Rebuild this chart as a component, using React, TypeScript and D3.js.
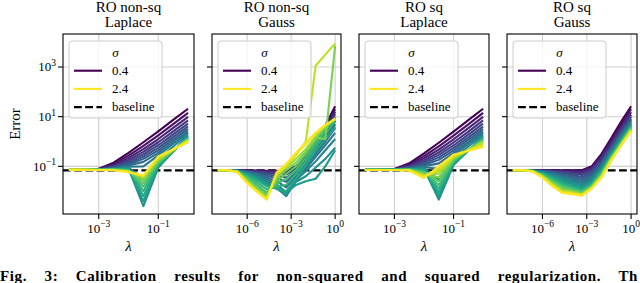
import React, { useLayoutEffect, useRef } from "react";
import * as d3 from "d3";

// ---------- data ----------
const sigmas = [0.4, 0.5, 0.6, 0.7, 0.8, 0.9, 1.0, 1.1, 1.2, 1.3, 1.4, 1.5, 1.6, 1.7, 1.8, 1.9, 2.0, 2.1, 2.2, 2.3, 2.4];
const lambdaExpLaplace = [-4, -3.5, -3, -2.5, -2, -1.5, -1, -0.5, 0];
const lambdaExpGauss = [-8, -7.33, -6.67, -6, -5.33, -4.67, -4, -3.33, -2.67, -2, -1.33, -0.67, 0];
const baselineError = 0.069;
const panelTitles = [
  ["RO non-sq", "Laplace"],
  ["RO non-sq", "Gauss"],
  ["RO sq", "Laplace"],
  ["RO sq", "Gauss"],
];
const yTickValues = [1e-1, 1e1, 1e3];
const xTicksLaplace = [1e-3, 1e-1];
const xTicksGauss = [1e-6, 1e-3, 1];
const legendLabels = ["0.4", "2.4", "baseline"];

// log10(Error), one row per sigma
const logErrNonSqLaplace = [
  [-1.14, -1.14, -1.10, -0.85, -0.46, -0.03, 0.41, 0.87, 1.32],
  [-1.14, -1.14, -1.11, -0.91, -0.57, -0.18, 0.25, 0.70, 1.15],
  [-1.14, -1.14, -1.12, -0.96, -0.66, -0.31, 0.10, 0.55, 0.99],
  [-1.14, -1.14, -1.12, -0.99, -0.74, -0.42, -0.03, 0.41, 0.85],
  [-1.14, -1.14, -1.13, -1.02, -0.81, -0.52, -0.15, 0.29, 0.72],
  [-1.14, -1.14, -1.13, -1.04, -0.87, -0.61, -0.26, 0.18, 0.61],
  [-1.14, -1.14, -1.13, -1.06, -0.92, -0.70, -0.36, 0.08, 0.51],
  [-1.14, -1.14, -1.13, -1.08, -0.97, -0.82, -0.46, -0.01, 0.42],
  [-1.14, -1.14, -1.14, -1.09, -1.01, -1.00, -0.56, -0.09, 0.35],
  [-1.14, -1.14, -1.14, -1.10, -1.05, -1.50, -0.72, -0.20, 0.29],
  [-1.14, -1.14, -1.14, -1.11, -1.08, -2.60, -1.05, -0.40, 0.24],
  [-1.14, -1.14, -1.14, -1.12, -1.10, -2.40, -1.00, -0.40, 0.20],
  [-1.14, -1.14, -1.14, -1.12, -1.12, -2.20, -0.95, -0.39, 0.17],
  [-1.14, -1.14, -1.14, -1.13, -1.14, -2.00, -0.90, -0.38, 0.14],
  [-1.14, -1.14, -1.14, -1.13, -1.16, -1.82, -0.86, -0.37, 0.12],
  [-1.14, -1.14, -1.14, -1.14, -1.18, -1.68, -0.82, -0.36, 0.10],
  [-1.14, -1.14, -1.14, -1.14, -1.19, -1.56, -0.78, -0.35, 0.08],
  [-1.14, -1.14, -1.15, -1.15, -1.20, -1.47, -0.73, -0.34, 0.06],
  [-1.14, -1.14, -1.15, -1.15, -1.21, -1.41, -0.69, -0.33, 0.04],
  [-1.14, -1.14, -1.15, -1.15, -1.22, -1.38, -0.65, -0.32, 0.01],
  [-1.14, -1.14, -1.15, -1.16, -1.24, -1.37, -0.60, -0.32, -0.03],
];

const logErrNonSqGauss = [
  [-1.16, -1.16, -1.16, -1.17, -1.17, -1.18, -1.18, -1.17, -1.00, -0.55, -0.05, 0.65, 1.42],
  [-1.16, -1.16, -1.16, -1.17, -1.18, -1.19, -1.19, -1.18, -1.02, -0.60, -0.10, 0.55, 1.30],
  [-1.16, -1.16, -1.16, -1.18, -1.19, -1.20, -1.21, -1.20, -1.05, -0.65, -0.15, 0.48, 1.20],
  [-1.16, -1.16, -1.17, -1.19, -1.21, -1.23, -1.24, -1.24, -1.08, -0.70, -0.20, 0.40, 1.10],
  [-1.16, -1.16, -1.17, -1.20, -1.23, -1.27, -1.30, -1.32, -1.12, -0.75, -0.25, 0.32, 0.98],
  [-1.16, -1.16, -1.17, -1.21, -1.26, -1.32, -1.38, -1.45, -1.18, -0.82, -0.32, 0.22, 0.85],
  [-1.16, -1.16, -1.17, -1.23, -1.29, -1.38, -1.48, -1.62, -1.25, -0.90, -0.40, 0.10, 0.70],
  [-1.16, -1.16, -1.17, -1.24, -1.32, -1.45, -1.60, -1.85, -1.35, -1.00, -0.50, 0.00, 0.55],
  [-1.16, -1.16, -1.18, -1.26, -1.36, -1.52, -1.72, -2.05, -1.45, -1.10, -0.62, -0.15, 0.35],
  [-1.16, -1.16, -1.18, -1.28, -1.40, -1.60, -1.85, -2.20, -1.55, -1.20, -0.80, -0.35, 0.10],
  [-1.16, -1.16, -1.19, -1.30, -1.45, -1.68, -1.90, -2.15, -1.62, -1.40, -1.05, -0.70, -0.25],
  [-1.16, -1.16, -1.19, -1.32, -1.50, -1.75, -1.85, -2.05, -1.75, -1.60, -1.50, -1.00, -0.35],
  [-1.16, -1.16, -1.20, -1.35, -1.55, -1.80, -1.90, -2.00, -1.50, -0.95, -0.40, 0.10, 0.60],
  [-1.16, -1.16, -1.20, -1.40, -1.65, -1.92, -1.80, -1.75, -1.30, -0.80, -0.25, 0.30, 0.80],
  [-1.16, -1.16, -1.20, -1.45, -1.75, -2.05, -1.70, -1.50, -1.15, -0.65, -0.10, 0.45, 0.90],
  [-1.16, -1.16, -1.21, -1.50, -1.85, -2.15, -1.60, -1.30, -1.00, -0.50, 0.05, 0.55, 0.95],
  [-1.16, -1.16, -1.21, -1.55, -1.90, -2.20, -1.50, -1.15, -0.85, -0.40, 0.15, 0.10, 3.85],
  [-1.16, -1.16, -1.22, -1.60, -1.95, -2.25, -1.40, -1.05, -0.70, -0.30, 0.20, 0.60, 0.95],
  [-1.16, -1.16, -1.22, -1.62, -2.00, -2.30, -1.35, -1.00, -0.55, 0.00, 3.05, 3.50, 3.95],
  [-1.16, -1.16, -1.22, -1.65, -2.00, -2.32, -1.30, -0.95, -0.50, -0.10, 0.30, 0.65, 0.90],
  [-1.16, -1.16, -1.23, -1.68, -2.02, -2.34, -1.25, -0.90, -0.45, -0.05, 0.35, 0.68, 0.90],
];

const logErrSqLaplace = [
  [-1.14, -1.14, -1.11, -0.88, -0.48, -0.05, 0.40, 0.86, 1.32],
  [-1.14, -1.14, -1.12, -0.93, -0.59, -0.20, 0.24, 0.69, 1.15],
  [-1.14, -1.14, -1.12, -0.97, -0.68, -0.33, 0.09, 0.54, 0.99],
  [-1.14, -1.14, -1.13, -1.00, -0.76, -0.44, -0.04, 0.40, 0.85],
  [-1.14, -1.14, -1.13, -1.03, -0.83, -0.54, -0.16, 0.28, 0.72],
  [-1.14, -1.14, -1.13, -1.05, -0.89, -0.64, -0.27, 0.17, 0.60],
  [-1.14, -1.14, -1.13, -1.07, -0.95, -0.74, -0.37, 0.07, 0.50],
  [-1.14, -1.14, -1.13, -1.08, -1.00, -0.88, -0.47, -0.02, 0.41],
  [-1.14, -1.14, -1.14, -1.09, -1.04, -1.10, -0.57, -0.10, 0.34],
  [-1.14, -1.14, -1.14, -1.10, -1.07, -1.55, -0.70, -0.20, 0.28],
  [-1.14, -1.14, -1.14, -1.11, -1.10, -2.34, -0.95, -0.36, 0.22],
  [-1.14, -1.14, -1.14, -1.12, -1.13, -2.20, -0.90, -0.36, 0.18],
  [-1.14, -1.14, -1.14, -1.12, -1.16, -2.05, -0.86, -0.36, 0.14],
  [-1.14, -1.14, -1.14, -1.13, -1.19, -1.90, -0.82, -0.35, 0.11],
  [-1.14, -1.14, -1.14, -1.13, -1.22, -1.75, -0.78, -0.35, 0.08],
  [-1.14, -1.14, -1.15, -1.14, -1.26, -1.60, -0.74, -0.34, 0.05],
  [-1.14, -1.14, -1.15, -1.14, -1.30, -1.45, -0.70, -0.34, 0.02],
  [-1.15, -1.15, -1.15, -1.15, -1.34, -1.30, -0.66, -0.34, -0.02],
  [-1.15, -1.15, -1.15, -1.16, -1.38, -1.20, -0.62, -0.35, -0.08],
  [-1.15, -1.15, -1.15, -1.16, -1.42, -1.10, -0.57, -0.36, -0.15],
  [-1.15, -1.15, -1.15, -1.17, -1.47, -1.00, -0.53, -0.37, -0.22],
];

const logErrSqGauss = [
  [-1.16, -1.16, -1.16, -1.16, -1.16, -1.16, -1.16, -1.16, -1.00, -0.50, 0.15, 0.80, 1.42],
  [-1.16, -1.16, -1.16, -1.16, -1.17, -1.17, -1.17, -1.18, -1.03, -0.56, 0.07, 0.70, 1.30],
  [-1.16, -1.16, -1.16, -1.17, -1.18, -1.19, -1.20, -1.22, -1.08, -0.63, -0.02, 0.58, 1.18],
  [-1.16, -1.16, -1.16, -1.17, -1.19, -1.21, -1.24, -1.28, -1.13, -0.70, -0.10, 0.50, 1.08],
  [-1.16, -1.16, -1.16, -1.18, -1.20, -1.24, -1.29, -1.35, -1.20, -0.77, -0.17, 0.43, 1.00],
  [-1.16, -1.16, -1.17, -1.19, -1.22, -1.28, -1.35, -1.43, -1.27, -0.83, -0.23, 0.37, 0.93],
  [-1.16, -1.16, -1.17, -1.20, -1.25, -1.32, -1.41, -1.51, -1.34, -0.89, -0.29, 0.31, 0.87],
  [-1.16, -1.16, -1.17, -1.21, -1.27, -1.37, -1.47, -1.59, -1.41, -0.95, -0.34, 0.26, 0.82],
  [-1.16, -1.16, -1.17, -1.22, -1.30, -1.42, -1.54, -1.67, -1.48, -1.01, -0.39, 0.21, 0.77],
  [-1.16, -1.16, -1.18, -1.24, -1.34, -1.48, -1.61, -1.75, -1.54, -1.06, -0.44, 0.16, 0.73],
  [-1.16, -1.16, -1.18, -1.26, -1.38, -1.54, -1.68, -1.82, -1.60, -1.11, -0.48, 0.12, 0.69],
  [-1.16, -1.16, -1.18, -1.28, -1.42, -1.60, -1.74, -1.88, -1.65, -1.16, -0.52, 0.08, 0.65],
  [-1.16, -1.16, -1.19, -1.30, -1.47, -1.66, -1.80, -1.93, -1.70, -1.20, -0.56, 0.04, 0.62],
  [-1.16, -1.16, -1.19, -1.32, -1.52, -1.72, -1.85, -1.98, -1.74, -1.24, -0.59, 0.01, 0.59],
  [-1.16, -1.16, -1.19, -1.34, -1.57, -1.78, -1.90, -2.02, -1.78, -1.28, -0.62, -0.03, 0.56],
  [-1.16, -1.16, -1.19, -1.36, -1.62, -1.84, -1.95, -2.05, -1.81, -1.32, -0.65, -0.06, 0.53],
  [-1.16, -1.16, -1.20, -1.38, -1.66, -1.90, -1.99, -2.09, -1.84, -1.35, -0.68, -0.09, 0.50],
  [-1.16, -1.16, -1.20, -1.40, -1.70, -1.96, -2.03, -2.12, -1.86, -1.38, -0.70, -0.11, 0.47],
  [-1.16, -1.16, -1.20, -1.42, -1.74, -2.01, -2.06, -2.14, -1.88, -1.41, -0.72, -0.13, 0.45],
  [-1.16, -1.16, -1.20, -1.44, -1.77, -2.04, -2.09, -2.16, -1.89, -1.43, -0.74, -0.14, 0.43],
  [-1.16, -1.16, -1.20, -1.45, -1.80, -2.07, -2.12, -2.18, -1.90, -1.45, -0.75, -0.15, 0.41],
];

const caption = "Fig. 3: Calibration results for non-squared and squared regularization. Th";

// ---------- layout ----------
const W = 640;
const H = 283;
const TOP = 34;
const BOTTOM = 214;
const FONT = "Liberation Serif, Times New Roman, serif";

const panels = [
  { x0: 63, x1: 194, lam: lambdaExpLaplace, data: logErrNonSqLaplace, dom: [-4.2, 0.2], ticks: xTicksLaplace },
  { x0: 212, x1: 341, lam: lambdaExpGauss, data: logErrNonSqGauss, dom: [-8.4, 0.4], ticks: xTicksGauss },
  { x0: 359, x1: 489, lam: lambdaExpLaplace, data: logErrSqLaplace, dom: [-4.2, 0.2], ticks: xTicksLaplace },
  { x0: 507, x1: 637, lam: lambdaExpGauss, data: logErrSqGauss, dom: [-8.4, 0.4], ticks: xTicksGauss },
];

const y = d3.scaleLog().domain([10 ** -2.92, 10 ** 4.33]).range([BOTTOM, TOP]);
const color = (i: number) => d3.interpolateViridis(i / (sigmas.length - 1));

function PowLabel({ v, x, yy, anchor }: { v: number; x: number; yy: number; anchor: string }) {
  const e = Math.round(Math.log10(v));
  const es = e < 0 ? "\u2212" + Math.abs(e) : String(e);
  return (
    <text x={x} y={yy} textAnchor={anchor} fontSize={13} fontFamily={FONT} fill="#000">
      10
      <tspan dy={-5.5} fontSize={9.5}>
        {es}
      </tspan>
    </text>
  );
}

function Panel({ p, idx }: { p: (typeof panels)[number]; idx: number }) {
  const x = d3.scaleLog().domain([10 ** p.dom[0], 10 ** p.dom[1]]).range([p.x0, p.x1]);
  const line = d3
    .line<number>()
    .x((_, j) => x(10 ** p.lam[j]))
    .y((d) => y(10 ** d));
  const cx = (p.x0 + p.x1) / 2;
  const clipId = `clip${idx}`;
  const lx = p.x0 + 6;
  const ly = 41;
  return (
    <g>
      <clipPath id={clipId}>
        <rect x={p.x0} y={TOP} width={p.x1 - p.x0} height={BOTTOM - TOP} />
      </clipPath>
      {p.ticks.map((t) => (
        <line key={"gx" + t} x1={x(t)} x2={x(t)} y1={TOP} y2={BOTTOM} stroke="#d0d0d0" strokeWidth={1.1} />
      ))}
      {yTickValues.map((t) => (
        <line key={"gy" + t} x1={p.x0} x2={p.x1} y1={y(t)} y2={y(t)} stroke="#d0d0d0" strokeWidth={1.1} />
      ))}
      <g clipPath={`url(#${clipId})`}>
        <line
          x1={p.x0}
          x2={p.x1}
          y1={y(baselineError)}
          y2={y(baselineError)}
          stroke="#000"
          strokeWidth={2.1}
          strokeDasharray="7.8 3.4"
        />
        {p.data.map((row, i) => (
          <path key={i} d={line(row) || ""} fill="none" stroke={color(i)} strokeWidth={2.1} strokeLinejoin="round" />
        ))}
      </g>
      <rect x={p.x0} y={TOP} width={p.x1 - p.x0} height={BOTTOM - TOP} fill="none" stroke="#000" strokeWidth={1.1} />
      {p.ticks.map((t) => (
        <g key={"tx" + t}>
          <line x1={x(t)} x2={x(t)} y1={BOTTOM} y2={BOTTOM + 5} stroke="#000" strokeWidth={1.1} />
          <PowLabel v={t} x={x(t)} yy={232.5} anchor="middle" />
        </g>
      ))}
      {yTickValues.map((t) => (
        <g key={"ty" + t}>
          <line x1={p.x0 - 5} x2={p.x0} y1={y(t)} y2={y(t)} stroke="#000" strokeWidth={1.1} />
          {idx === 0 && <PowLabel v={t} x={p.x0 - 7} yy={y(t) + 4.4} anchor="end" />}
        </g>
      ))}
      <text x={cx} y={12} textAnchor="middle" fontSize={15} fontFamily={FONT}>
        {panelTitles[idx][0]}
      </text>
      <text x={cx} y={27} textAnchor="middle" fontSize={15} fontFamily={FONT}>
        {panelTitles[idx][1]}
      </text>
      <text x={cx} y={251} textAnchor="middle" fontSize={15} fontStyle="italic" fontFamily={FONT}>
        λ
      </text>
      <g>
        <rect x={lx} y={ly} width={93} height={77} rx={3} fill="#fff" fillOpacity={0.8} stroke="#cccccc" strokeWidth={1} />
        <text x={lx + 46.5} y={57} textAnchor="middle" fontSize={13} fontStyle="italic" fontFamily={FONT}>
          σ
        </text>
        {[color(0), color(sigmas.length - 1), "#000"].map((c, k) => {
          const ry = 70.7 + k * 18.2;
          return (
            <g key={k}>
              <line
                x1={lx + 5}
                x2={lx + 33}
                y1={ry}
                y2={ry}
                stroke={c}
                strokeWidth={2.1}
                strokeDasharray={k === 2 ? "7.8 3.4" : undefined}
              />
              <text x={lx + 43} y={ry + 4.3} fontSize={13} fontFamily={FONT}>
                {legendLabels[k]}
              </text>
            </g>
          );
        })}
      </g>
    </g>
  );
}

export default function App() {
  const capRef = useRef<SVGTextElement>(null);
  useLayoutEffect(() => {
    const el = capRef.current;
    if (!el) return;
    el.setAttribute("word-spacing", "0");
    const len = el.getComputedTextLength();
    const spaces = caption.split(" ").length - 1;
    const extra = Math.max(0, (638 - len) / spaces);
    el.setAttribute("word-spacing", String(extra));
  }, []);
  return (
    <div style={{ position: "fixed", left: 0, top: 0, width: W, height: H, background: "#fff" }}>
      <svg width={W} height={H} viewBox={`0 0 ${W} ${H}`} style={{ display: "block" }}>
        <rect x={0} y={0} width={W} height={H} fill="#fff" />
        {panels.map((p, i) => (
          <Panel key={i} p={p} idx={i} />
        ))}
        <text
          x={15}
          y={124}
          transform="rotate(-90 15 124)"
          textAnchor="middle"
          dominantBaseline="central"
          fontSize={15}
          fontFamily={FONT}
        >
          Error
        </text>
        <text ref={capRef} x={0} y={281} fontSize={15} fontWeight="bold" letterSpacing={0.6} fontFamily={FONT}>
          {caption}
        </text>
      </svg>
    </div>
  );
}
